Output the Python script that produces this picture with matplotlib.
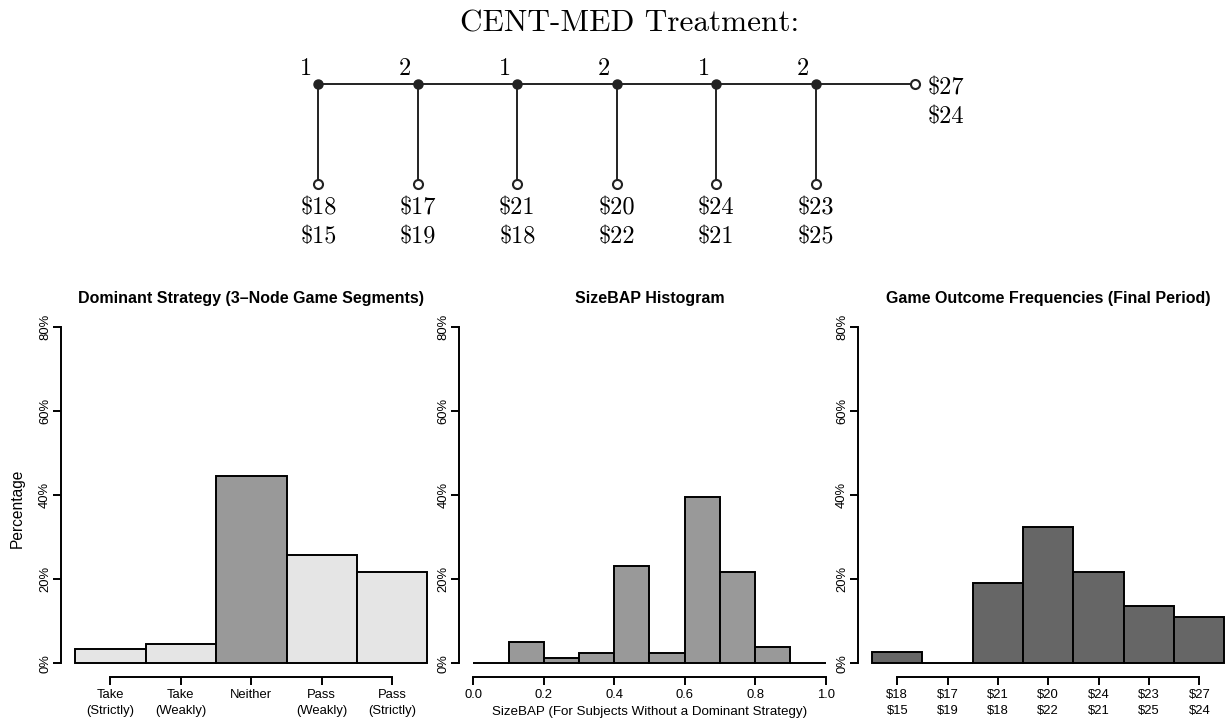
import matplotlib
matplotlib.use('Agg')
import matplotlib.pyplot as plt

# centipede game tree (CENT-MED)
movers = [1, 2, 1, 2, 1, 2]
take_pay1 = [18, 17, 21, 20, 24, 23]
take_pay2 = [15, 19, 18, 22, 21, 25]
pass_pay = [27, 24]

# panel 1: dominant strategy shares
strategy_labels = ["Take\n(Strictly)", "Take\n(Weakly)", "Neither",
                   "Pass\n(Weakly)", "Pass\n(Strictly)"]
strategy_pct = [3.4, 4.6, 44.6, 25.7, 21.7]

# panel 2: SizeBAP histogram, bins of 0.1 from 0 to 1
bap_edges = [0.0, 0.1, 0.2, 0.3, 0.4, 0.5, 0.6, 0.7, 0.8, 0.9, 1.0]
bap_pct = [0.0, 5.1, 1.3, 2.5, 23.2, 2.5, 39.7, 21.8, 3.8, 0.0]
bap_ticks = [0.0, 0.2, 0.4, 0.6, 0.8, 1.0]

# panel 3: game outcomes in the final period
outcome_labels = ["$18\n$15", "$17\n$19", "$21\n$18", "$20\n$22",
                  "$24\n$21", "$23\n$25", "$27\n$24"]
outcome_pct = [2.8, 0.0, 19.0, 32.5, 21.7, 13.6, 10.9]

pct_ticks = [0, 20, 40, 60, 80]

plt.rcParams['font.family'] = ['Liberation Sans', 'DejaVu Sans']
plt.rcParams['text.parse_math'] = False

TREE_FONT = ['cmr10', 'DejaVu Serif']
INK = '#222222'


def r_axes(ax, xlo, xhi, xticks, xlabels):
    """axes a la R: bornes courtes, ticks vers l'exterieur"""
    ax.spines['top'].set_visible(False)
    ax.spines['right'].set_visible(False)
    ax.spines['left'].set_bounds(0, 80)
    ax.spines['bottom'].set_bounds(xticks[0], xticks[-1])
    for s in ['left', 'bottom']:
        ax.spines[s].set_linewidth(1.4)
    ax.set_xlim(xlo, xhi)
    ax.set_ylim(-3.2, 83.2)
    ax.set_yticks(pct_ticks)
    ax.set_yticklabels([f"{v}%" for v in pct_ticks], rotation=90, va='center')
    ax.set_xticks(xticks)
    ax.set_xticklabels(xlabels, linespacing=1.36)
    ax.tick_params(axis='both', length=6.1, width=1.4, labelsize=9.4,
                   colors='black')
    ax.tick_params(axis='y', pad=1.0)
    ax.tick_params(axis='x', pad=3.0)


def draw_tree(ax):
    n = len(movers)
    xs = list(range(n))
    end = n
    ax.plot([0, end], [0, 0], color=INK, lw=1.4, zorder=1)
    for i in xs:
        ax.plot([i, i], [0, -1], color=INK, lw=1.4, zorder=1)
        ax.plot(i, -1, 'o', ms=6.5, mfc='white', mec=INK, mew=1.5, zorder=3)
        ax.text(i - 0.128, 0.09, str(movers[i]), family=TREE_FONT,
                fontsize=17.5, ha='center', va='baseline')
        ax.text(i, -1.30, f"${take_pay1[i]}", family=TREE_FONT,
                fontsize=17.5, ha='center', va='baseline')
        ax.text(i, -1.587, f"${take_pay2[i]}", family=TREE_FONT,
                fontsize=17.5, ha='center', va='baseline')
    ax.plot(xs, [0] * n, 'o', ms=6.5, color=INK, zorder=3)
    ax.plot(end, 0, 'o', ms=6.5, mfc='white', mec=INK, mew=1.5, zorder=3)
    ax.text(end + 0.12, -0.10, f"${pass_pay[0]}", family=TREE_FONT,
            fontsize=17.5, ha='left', va='baseline')
    ax.text(end + 0.12, -0.387, f"${pass_pay[1]}", family=TREE_FONT,
            fontsize=17.5, ha='left', va='baseline')
    ax.text(3.13, 0.523, "CENT-MED Treatment:", family=TREE_FONT,
            fontsize=22.5, ha='center', va='baseline')


def main():
    fig = plt.figure(figsize=(12.3, 7.24), dpi=100)

    ax_t = fig.add_axes([0, 0, 1, 1])
    ax_t.set_xlim(-3.199, 9.162)
    ax_t.set_ylim(-6.4, 0.84)
    ax_t.axis('off')
    draw_tree(ax_t)

    bottom, height = 0.06533, 0.5011
    ax1 = fig.add_axes([0.04959, bottom, 0.3094, height])
    ax2 = fig.add_axes([0.37333, bottom, 0.3094, height])
    ax3 = fig.add_axes([0.69756, bottom, 0.3094, height])

    # panel 1
    pos1 = list(range(len(strategy_pct)))
    cols1 = ['#999999' if lab == "Neither" else '#E5E5E5'
             for lab in strategy_labels]
    ax1.bar(pos1, strategy_pct, width=1, color=cols1, edgecolor='black',
            linewidth=1.4)
    r_axes(ax1, -0.7, len(pos1) - 0.3, pos1, strategy_labels)
    ax1.set_title("Dominant Strategy (3\u2013Node Game Segments)",
                  fontsize=11.5, fontweight='bold', pad=7.6)
    ax1.text(-0.1156, 0.4636, "Percentage", transform=ax1.transAxes,
             rotation=90, ha='center', va='center', fontsize=11.2)

    # panel 2
    ax2.bar(bap_edges[:-1], bap_pct, width=0.1, align='edge',
            color='#999999', edgecolor='black', linewidth=1.4)
    r_axes(ax2, -0.04, 1.04, bap_ticks, [f"{t:.1f}" for t in bap_ticks])
    ax2.set_title("SizeBAP Histogram", fontsize=11.5, fontweight='bold',
                  pad=7.6)
    ax2.set_xlabel("SizeBAP (For Subjects Without a Dominant Strategy)",
                   fontsize=9.6, labelpad=3.5)

    # panel 3
    pos3 = list(range(len(outcome_pct)))
    ax3.bar(pos3, outcome_pct, width=1, color='#666666', edgecolor='black',
            linewidth=1.4)
    r_axes(ax3, -0.78, len(pos3) - 0.22, pos3, outcome_labels)
    ax3.set_title("Game Outcome Frequencies (Final Period)", fontsize=11.5,
                  fontweight='bold', pad=7.6)

    fig.savefig("out.png", dpi=100)


if __name__ == "__main__":
    main()
